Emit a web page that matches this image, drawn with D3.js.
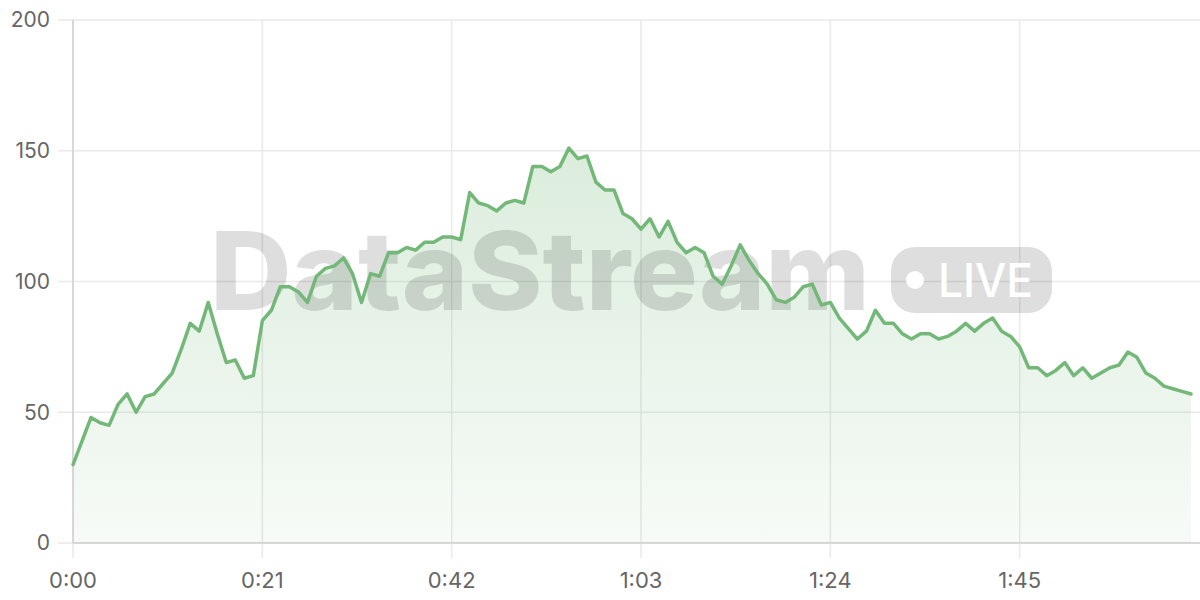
<!DOCTYPE html>
<html>
<head>
<meta charset="utf-8">
<script src="https://cdn.jsdelivr.net/npm/d3@7/dist/d3.min.js"></script>
<style>
  html, body { margin: 0; padding: 0; background: #fff; }
  svg { display: block; }
</style>
</head>
<body>
<svg id="chart" width="1200" height="600"></svg>
<script>
// Values, one per second from 0:00 to 2:04
const seconds = d3.range(0, 125);
const values = [
  30, 39, 48, 46, 45, 53, 57, 50, 56, 57,
  61, 65, 74, 84, 81, 92, 80, 69, 70, 63,
  64, 85, 89, 98, 98, 96, 92, 102, 105, 106,
  109, 103, 92, 103, 102, 111, 111, 113, 112, 115,
  115, 117, 117, 116, 134, 130, 129, 127, 130, 131,
  130, 144, 144, 142, 144, 151, 147, 148, 138, 135,
  135, 126, 124, 120, 124, 117, 123, 115, 111, 113,
  111, 102, 99, 106, 114, 108, 103, 99, 93, 92,
  94, 98, 99, 91, 92, 86, 82, 78, 81, 89,
  84, 84, 80, 78, 80, 80, 78, 79, 81, 84,
  81, 84, 86, 81, 79, 75, 67, 67, 64, 66,
  69, 64, 67, 63, 65, 67, 68, 73, 71, 65,
  63, 60, 59, 58, 57
];
const xTicks = [0, 21, 42, 63, 84, 105];
const yTicks = [0, 50, 100, 150, 200];
const watermarkText = "DataStream";
const badgeText = "LIVE";

const data = seconds.map((s, i) => ({ s, v: values[i] }));

const svg = d3.select("#chart");
const mLeft = 73, mRight = 1200, mTop = 20, mBottom = 543;

const x = d3.scaleLinear().domain([0, 125]).range([mLeft, mRight]);
const y = d3.scaleLinear().domain([0, 200]).range([mBottom, mTop]);

const green = "rgb(116,184,121)";
const fmt = s => Math.floor(s / 60) + ":" + String(s % 60).padStart(2, "0");

// gradient
const defs = svg.append("defs");
const grad = defs.append("linearGradient")
  .attr("id", "areaGrad").attr("gradientUnits", "userSpaceOnUse")
  .attr("x1", 0).attr("x2", 0).attr("y1", y(151)).attr("y2", mBottom);
grad.append("stop").attr("offset", "0%").attr("stop-color", green).attr("stop-opacity", 0.26);
grad.append("stop").attr("offset", "100%").attr("stop-color", green).attr("stop-opacity", 0.06);

// grid lines
const gridColor = "#e9e9e9";
svg.append("g").selectAll("line").data(yTicks).join("line")
  .attr("x1", mLeft - 15).attr("x2", mRight)
  .attr("y1", d => y(d)).attr("y2", d => y(d))
  .attr("stroke", gridColor).attr("stroke-width", 1.5);
svg.append("g").selectAll("line").data(xTicks).join("line")
  .attr("x1", d => x(d)).attr("x2", d => x(d))
  .attr("y1", mTop).attr("y2", mBottom + 15)
  .attr("stroke", gridColor).attr("stroke-width", 1.5);

// axis lines
svg.append("line").attr("x1", mLeft).attr("x2", mLeft).attr("y1", mTop).attr("y2", mBottom)
  .attr("stroke", "#d0d0d0").attr("stroke-width", 1.5);
svg.append("line").attr("x1", mLeft).attr("x2", mRight).attr("y1", mBottom).attr("y2", mBottom)
  .attr("stroke", "#d0d0d0").attr("stroke-width", 1.5);

// area
const area = d3.area().x(d => x(d.s)).y0(mBottom).y1(d => y(d.v));
const line = d3.line().x(d => x(d.s)).y(d => y(d.v));
svg.append("path").datum(data).attr("d", area).attr("fill", "url(#areaGrad)");

// watermark (between area and line)
const wm = svg.append("g").attr("pointer-events", "none");
wm.append("text").attr("x", 210).attr("y", 310)
  .attr("font-family", "Inter, 'Open Sans', sans-serif").attr("font-weight", 800)
  .attr("font-size", 109).attr("textLength", 660).attr("lengthAdjust", "spacingAndGlyphs")
  .attr("fill", "#000").attr("fill-opacity", 0.13).text(watermarkText);
wm.append("rect").attr("x", 891).attr("y", 247).attr("width", 161).attr("height", 66)
  .attr("rx", 24).attr("fill", "#000").attr("fill-opacity", 0.13);
wm.append("circle").attr("cx", 915).attr("cy", 280).attr("r", 9).attr("fill", "#fff");
wm.append("text").attr("x", 938).attr("y", 297)
  .attr("font-family", "Inter, 'Open Sans', sans-serif").attr("font-weight", 500)
  .attr("font-size", 46).attr("textLength", 95).attr("lengthAdjust", "spacingAndGlyphs")
  .attr("fill", "#fff").text(badgeText);

// line on top
svg.append("path").datum(data).attr("d", line)
  .attr("fill", "none").attr("stroke", green).attr("stroke-width", 3.5)
  .attr("stroke-linejoin", "round").attr("stroke-linecap", "round");

// tick labels
svg.append("g").selectAll("text").data(yTicks).join("text")
  .attr("x", 50).attr("y", d => y(d)).attr("dy", "0.35em")
  .attr("text-anchor", "end")
  .attr("font-family", "Inter, 'Noto Sans', sans-serif").attr("font-size", 21)
  .attr("fill", "#666").text(d => d);
svg.append("g").selectAll("text").data(xTicks).join("text")
  .attr("x", d => x(d)).attr("y", 588)
  .attr("text-anchor", "middle")
  .attr("font-family", "Inter, 'Noto Sans', sans-serif").attr("font-size", 22)
  .attr("fill", "#666").text(d => fmt(d));
</script>
</body>
</html>
